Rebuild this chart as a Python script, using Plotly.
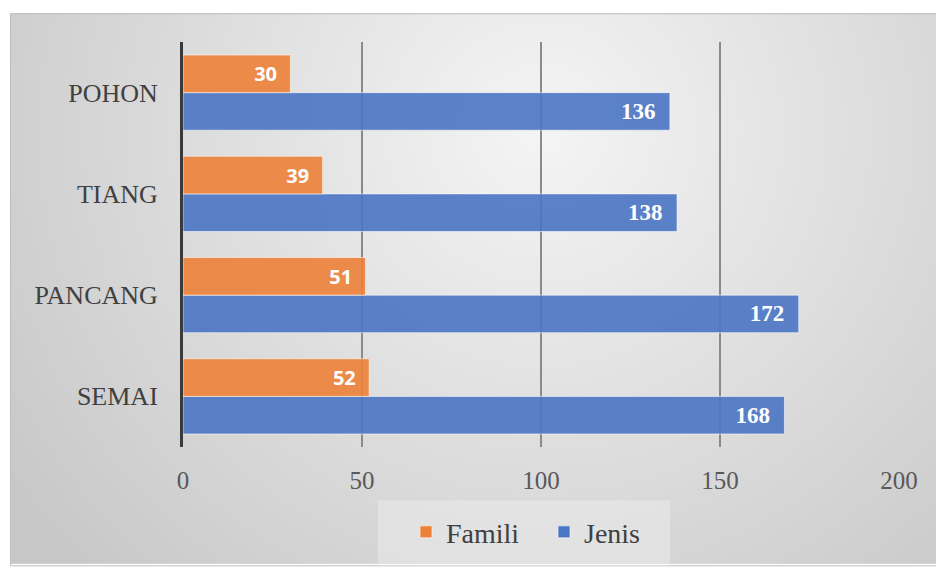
import base64, struct, zlib
import numpy as np
import plotly.graph_objects as go

categories = ["SEMAI", "PANCANG", "TIANG", "POHON"]
famili = [52, 51, 39, 30]
jenis = [168, 172, 138, 136]
x_ticks = [0, 50, 100, 150, 200]

W, H = 936, 569
L, R, T, B = 183, 37, 42, 118
PW, PH = W - L - R, H - T - B
SERIF = "Liberation Serif, Times New Roman, serif"


def px_x(p):
    return (p - L) / PW


def px_y(p):
    return (H - B - p) / PH


def gradient_png(w, h):
    yy, xx = np.mgrid[0:h, 0:w].astype(float)
    sx = xx * (926 / w) + 10
    sy = yy * (556 / h) + 13
    d = np.sqrt(((sx - 540) / 650) ** 2 + ((sy - 130) / 640) ** 2)
    d = np.clip(d, 0, 1)
    v = (245 - d * 45).astype(np.uint8)
    rows = b"".join(b"\x00" + bytes(np.repeat(v[r][:, None], 3, axis=1).ravel()) for r in range(h))

    def chunk(tag, data):
        c = struct.pack(">I", len(data)) + tag + data
        return c + struct.pack(">I", zlib.crc32(tag + data) & 0xFFFFFFFF)

    png = b"\x89PNG\r\n\x1a\n"
    png += chunk(b"IHDR", struct.pack(">IIBBBBB", w, h, 8, 2, 0, 0, 0))
    png += chunk(b"IDAT", zlib.compress(rows, 9))
    png += chunk(b"IEND", b"")
    return "data:image/png;base64," + base64.b64encode(png).decode()


bg = gradient_png(463, 278)

fig = go.Figure()
fig.add_trace(go.Bar(
    y=categories, x=jenis, name="Jenis", orientation="h",
    marker=dict(color="#4B76C4", opacity=0.9, line=dict(color="rgba(255,255,255,0.6)", width=1)),
    texttemplate="<b>%{x}</b>\u00a0\u00a0", textposition="inside", insidetextanchor="end",
    textfont=dict(family=SERIF, size=23, color="white"),
    legendrank=2,
))
fig.add_trace(go.Bar(
    y=categories, x=famili, name="Famili", orientation="h",
    marker=dict(color="#ED8139", opacity=0.9, line=dict(color="rgba(255,255,255,0.6)", width=1)),
    texttemplate="<b>%{x}</b>\u00a0\u00a0", textposition="inside", insidetextanchor="end",
    textfont=dict(family="Open Sans, sans-serif", size=20, color="white"),
    legendrank=1,
))

fig.update_layout(
    width=W, height=H,
    margin=dict(l=L, r=R, t=T, b=B),
    font=dict(family=SERIF, color="#404040"),
    paper_bgcolor="white",
    plot_bgcolor="rgba(0,0,0,0)",
    barmode="group", bargap=0.257, bargroupgap=0,
    showlegend=True,
    legend=dict(
        orientation="h", x=px_x(406), xanchor="left", y=px_y(537), yanchor="middle",
        font=dict(family=SERIF, size=28, color="#404040"),
        bgcolor="rgba(0,0,0,0)", traceorder="normal",
        entrywidth=93, entrywidthmode="pixels",
    ),
    xaxis=dict(
        range=[0, 200], tickvals=x_ticks, showgrid=True, gridcolor="#8a8a8a", gridwidth=2,
        zeroline=False, showline=False, ticks="outside", ticklen=11, tickcolor="rgba(0,0,0,0)",
        tickfont=dict(family=SERIF, size=25, color="#595959"),
    ),
    yaxis=dict(
        categoryorder="array", categoryarray=categories, range=[-0.5, 3.5],
        showgrid=False, showline=True, linecolor="#3a3a3a", linewidth=3,
        ticks="outside", ticklen=17, tickcolor="rgba(0,0,0,0)",
        tickfont=dict(family=SERIF, size=26, color="#404040"),
    ),
    images=[dict(
        source=bg, xref="paper", yref="paper",
        x=px_x(10), y=px_y(13), sizex=(W - 10) / PW, sizey=(H - 13) / PH,
        xanchor="left", yanchor="top", sizing="stretch", layer="below",
    )],
    shapes=[
        dict(type="rect", xref="paper", yref="paper",
             x0=px_x(10.5), x1=px_x(W + 2), y0=px_y(H + 2), y1=px_y(13.5),
             line=dict(color="#bdbdbd", width=1), fillcolor="rgba(0,0,0,0)", layer="below"),
        dict(type="rect", xref="paper", yref="paper",
             x0=px_x(378), x1=px_x(670), y0=px_y(H + 2), y1=px_y(505),
             line=dict(width=0), fillcolor="rgba(240,240,240,0.45)", layer="below"),
    ],
)

fig.write_html("out.html")
